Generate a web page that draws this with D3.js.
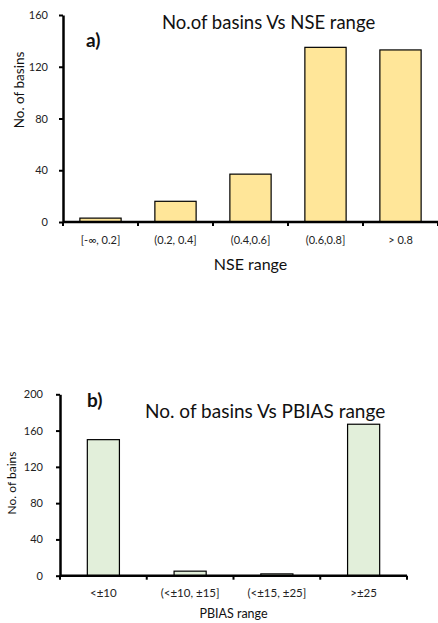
<!DOCTYPE html>
<html><head><meta charset="utf-8">
<script src="https://cdn.jsdelivr.net/npm/d3@7"></script>
<style>
html,body{margin:0;padding:0;background:#fff;}
svg{display:block;font-family:Lato,"Liberation Sans",sans-serif;}
</style></head>
<body>
<svg id="c" width="438" height="623"></svg>
<script>
// Chart a data
const nseCategories = ["[-∞, 0.2]", "(0.2, 0.4]", "(0.4,0.6]", "(0.6,0.8]", "> 0.8"];
const nseCounts = [3, 16, 37, 135, 133];
const nseTicks = [0, 40, 80, 120, 160];
// Chart b data
const pbiasCategories = ["<±10", "(<±10, ±15]", "(<±15, ±25]", ">±25"];
const pbiasCounts = [150, 5, 2, 167];
const pbiasTicks = [0, 40, 80, 120, 160, 200];

const svg = d3.select("#c");

function drawChart(cfg) {
  const g = svg.append("g");
  const x = d3.scaleBand().domain(cfg.cats).range([cfg.x0, cfg.x1]).paddingInner(cfg.pad).paddingOuter(cfg.pad/2);
  const y = d3.scaleLinear().domain([0, cfg.max]).range([cfg.y0, cfg.y1]);
  // bars
  g.selectAll("rect.bar").data(cfg.vals).join("rect")
    .attr("class","bar")
    .attr("x",(d,i)=>x(cfg.cats[i]))
    .attr("width",x.bandwidth())
    .attr("y",d=>y(d))
    .attr("height",d=>y(0)-y(d))
    .attr("fill",cfg.fill).attr("stroke","#000").attr("stroke-width",1.2);
  // y axis
  const ya = g.append("g").attr("transform",`translate(${cfg.x0},0)`)
    .call(d3.axisLeft(y).tickValues(cfg.ticks).tickSize(4).tickPadding(cfg.ypad).tickSizeOuter(0));
  ya.select(".domain").attr("stroke","#000").attr("stroke-width",2.5);
  ya.selectAll(".tick line").attr("stroke","#000").attr("stroke-width",2);
  ya.selectAll(".tick text").attr("font-size",cfg.yfs).attr("fill","#222").attr("font-family","Lato");
  // x axis with ticks at band boundaries
  const xa = g.append("g");
  xa.append("line").attr("x1",cfg.x0).attr("x2",cfg.x1).attr("y1",cfg.y0).attr("y2",cfg.y0)
    .attr("stroke","#000").attr("stroke-width",2.5);
  const bounds = cfg.cats.map(c=>x(c)-x.step()*x.paddingInner()/2).concat([cfg.x1]);
  xa.selectAll("line.t").data(bounds).join("line").attr("class","t")
    .attr("x1",d=>d).attr("x2",d=>d).attr("y1",cfg.y0).attr("y2",cfg.y0+4)
    .attr("stroke","#000").attr("stroke-width",2);
  xa.selectAll("text.xl").data(cfg.cats).join("text").attr("class","xl")
    .attr("x",d=>x(d)+x.bandwidth()/2).attr("y",cfg.xly)
    .attr("text-anchor","middle").attr("font-size",cfg.xfs).attr("fill","#222")
    .text(d=>d);
  // axis titles
  g.append("text").attr("x",(cfg.x0+cfg.x1)/2).attr("y",cfg.xty).attr("text-anchor","middle")
    .attr("font-size",cfg.xtfs).attr("fill","#111").text(cfg.xtitle);
  g.append("text").attr("transform",`translate(${cfg.ytx},${cfg.yty}) rotate(-90)`)
    .attr("text-anchor","middle").attr("font-size",cfg.ytfs).attr("fill","#111").text(cfg.ytitle);
  // chart title and panel label
  g.append("text").attr("x",cfg.tx).attr("y",cfg.ty).attr("font-size",cfg.tfs).attr("fill","#111").text(cfg.title);
  g.append("text").attr("x",cfg.lx).attr("y",cfg.ly).attr("font-size",19).attr("font-weight","bold").attr("fill","#111").text(cfg.label);
}

drawChart({cats:nseCategories, vals:nseCounts, ticks:nseTicks, max:160,
  x0:63, x1:438, y0:222, y1:15, pad:0.45, fill:"#FFE699",
  yfs:11, ypad:11, xfs:11, xly:244, xtitle:"NSE range", xty:270, xtfs:16,
  ytitle:"No. of basins", ytx:24, yty:90, ytfs:13.5,
  title:"No.of basins Vs NSE range", tx:162, ty:29, tfs:18.5, label:"a)", lx:86, ly:47});

drawChart({cats:pbiasCategories, vals:pbiasCounts, ticks:pbiasTicks, max:200,
  x0:60, x1:407, y0:575.7, y1:394.3, pad:0.63, fill:"#E2EFDA",
  yfs:11, ypad:13, xfs:11.5, xly:597, xtitle:"PBIAS range", xty:618, xtfs:12.5,
  ytitle:"No. of bains", ytx:16, yty:483, ytfs:12,
  title:"No. of basins Vs PBIAS range", tx:145, ty:418, tfs:19, label:"b)", lx:87, ly:407});
</script>
</body></html>
